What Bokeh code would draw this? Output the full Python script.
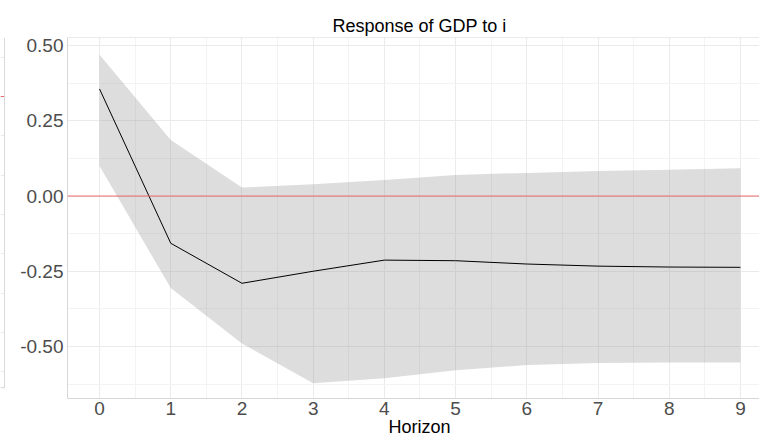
from bokeh.plotting import figure
from bokeh.layouts import row
from bokeh.models import Range1d, FixedTicker, Span, Grid, Title, BoxAnnotation
from bokeh.embed import file_html
from bokeh.resources import INLINE

# ---- data ----
horizon = [0, 1, 2, 3, 4, 5, 6, 7, 8, 9]
response = [0.356, -0.157, -0.290, -0.250, -0.213, -0.215, -0.226, -0.233, -0.236, -0.237]
upper = [0.470, 0.186, 0.028, 0.039, 0.053, 0.070, 0.077, 0.083, 0.087, 0.092]
lower = [0.100, -0.306, -0.490, -0.622, -0.606, -0.579, -0.562, -0.555, -0.553, -0.553]
x_tick_labels = ["0", "1", "2", "3", "4", "5", "6", "7", "8", "9"]
y_ticks = [-0.5, -0.25, 0.0, 0.25, 0.5]
y_tick_labels = ["-0.50", "-0.25", "0.00", "0.25", "0.50"]
y_minor = [-0.625, -0.375, -0.125, 0.125, 0.375, 0.625]
x_minor = [-0.5, 0.5, 1.5, 2.5, 3.5, 4.5, 5.5, 6.5, 7.5, 8.5, 9.5]
title_text = "Response of GDP to i"
x_label = "Horizon"

# neighbouring (cropped) panel: only its grid and zero line are visible
left_ticks = [0.1, 0.0, -0.1, -0.2, -0.3, -0.4, -0.5, -0.6, -0.7]
left_bottom = -0.7407

FONT = "Liberation Sans"
BORDER = "#D6D6D6"
GRID = "#EBEBEB"
MINOR = "#F3F3F3"
ZERO = "#E86A6A"

TOP, BOTTOM = 37, 38

# ---------- left sliver panel ----------
ly0, ly1 = -0.7684, 0.1501
left = figure(width=5, height=436, x_range=Range1d(0, 5), y_range=Range1d(ly0, ly1),
              x_axis_location=None, y_axis_location=None,
              output_backend="svg", toolbar_location=None,
              min_border_left=0, min_border_right=0,
              min_border_top=TOP, min_border_bottom=BOTTOM)
left.center = []  # drop the default grids
left.outline_line_color = None
left.background_fill_color = "white"
left.border_fill_color = "white"
left.add_layout(Grid(dimension=1, ticker=FixedTicker(ticks=left_ticks),
                     grid_line_color=GRID, grid_line_width=1))
left.add_layout(Span(location=0.0, dimension="width", line_color=ZERO, line_width=1))
# right border of the cropped panel, as a 1px strip
left.add_layout(BoxAnnotation(left=3.6, right=4.6, bottom=left_bottom,
                              fill_color=BORDER, fill_alpha=1, line_color=None,
                              level="overlay"))
left.add_layout(BoxAnnotation(top=left_bottom, fill_color="white", fill_alpha=1,
                              line_color=None, level="overlay"))
left.add_layout(Span(location=left_bottom, dimension="width", line_color=BORDER,
                     line_width=1, level="overlay"))

# ---------- main panel ----------
x0, x1 = -0.45, 9.268
y0, y1 = -0.673, 0.527
p = figure(width=754, height=436, x_range=Range1d(x0, x1), y_range=Range1d(y0, y1),
           output_backend="svg", toolbar_location=None,
           min_border_left=62, min_border_right=0,
           min_border_top=TOP, min_border_bottom=BOTTOM)
p.outline_line_color = None
p.background_fill_color = "white"
p.border_fill_color = "white"

p.xaxis.ticker = FixedTicker(ticks=horizon, minor_ticks=x_minor)
p.xaxis.major_label_overrides = {h: t for h, t in zip(horizon, x_tick_labels)}
p.yaxis.ticker = FixedTicker(ticks=y_ticks, minor_ticks=y_minor)
p.yaxis.major_label_overrides = {v: t for v, t in zip(y_ticks, y_tick_labels)}

for ax in (p.xaxis, p.yaxis):
    ax.major_tick_line_color = None
    ax.minor_tick_line_color = None
    ax.major_tick_out = 0
    ax.major_tick_in = 0
    ax.minor_tick_out = 0
    ax.minor_tick_in = 0
    ax.axis_line_color = BORDER
    ax.axis_line_width = 1
    ax.major_label_text_font = FONT
    ax.major_label_text_font_size = "19px"
    ax.major_label_text_color = "#4D4D4D"
p.xaxis.major_label_standoff = 3
p.yaxis.major_label_standoff = 4

p.grid.grid_line_color = GRID
p.grid.grid_line_width = 1
p.grid.minor_grid_line_color = MINOR
p.grid.minor_grid_line_width = 1

# top border of the panel
p.add_layout(Span(location=y1, dimension="width", line_color=BORDER, line_width=1))

# confidence band
p.varea(x=horizon, y1=lower, y2=upper, fill_color="#8F8F8F", fill_alpha=0.3)
# zero line
p.add_layout(Span(location=0.0, dimension="width", line_color=ZERO, line_width=1))
# impulse response
p.line(horizon, response, line_color="black", line_width=1)

# titles, centred on the full (uncropped) panel via a left offset
p.add_layout(Title(text=title_text, align="left", offset=265, standoff=4,
                   text_font=FONT, text_font_size="18px", text_font_style="normal",
                   text_color="black"), "above")
p.add_layout(Title(text=x_label, align="left", offset=321, standoff=-5,
                   vertical_align="bottom",
                   text_font=FONT, text_font_size="18px", text_font_style="normal",
                   text_color="black"), "below")

layout = row(left, p, spacing=0)
open("out.html", "w").write(file_html(layout, INLINE))
